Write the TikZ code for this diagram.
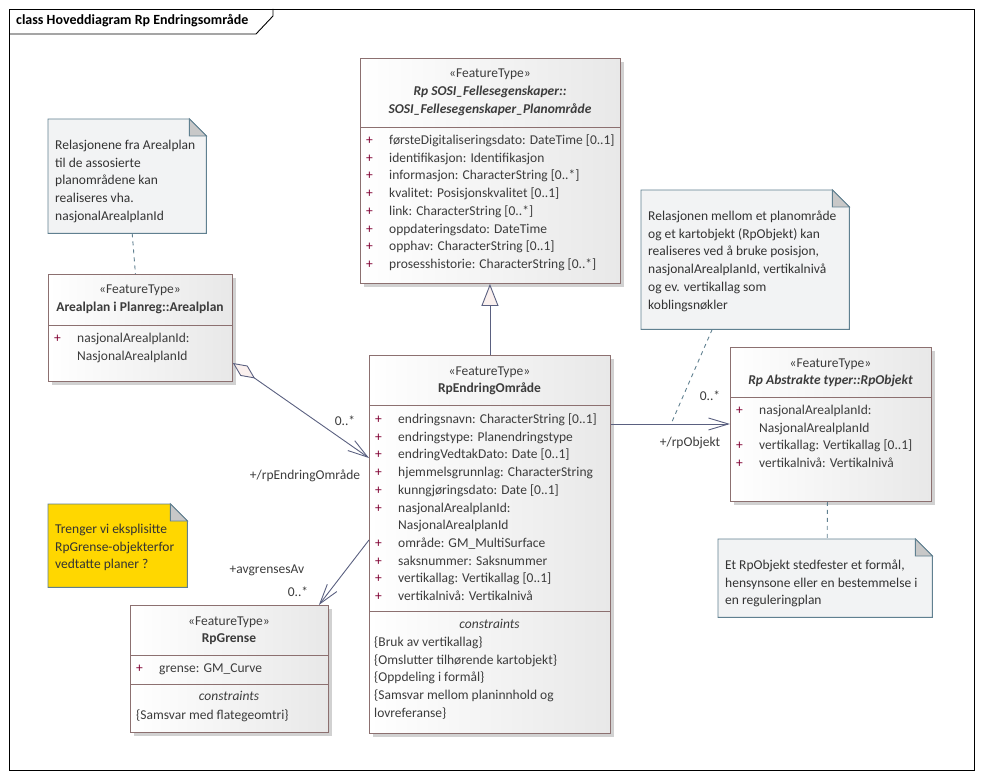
\documentclass[tikz,border=0pt]{standalone}
\usepackage{fontspec}
\setmainfont{Carlito}
\usetikzlibrary{arrows.meta,shadows}
\definecolor{classline}{RGB}{140,112,112}
\definecolor{classtext}{RGB}{60,60,60}
\definecolor{plusred}{RGB}{128,0,50}
\definecolor{noteline}{RGB}{96,128,144}
\definecolor{notefill}{RGB}{242,243,244}
\definecolor{foldfill}{RGB}{200,200,200}
\definecolor{yellownote}{RGB}{255,215,0}
\definecolor{linkcol}{RGB}{90,96,128}
\definecolor{tipfill}{RGB}{250,240,238}
\newcommand{\pl}{\strut\makebox[23pt][l]{\textcolor{plusred}{+}}}
\newcommand{\ind}{\strut\hspace*{23pt}}
\newcommand{\notefold}[2]{%
  \draw[noteline, line width=0.9pt, fill=#2] (#1.north west) -- ([xshift=-17pt]#1.north east)
    -- ([yshift=-17pt]#1.north east) -- (#1.south east) -- (#1.south west) -- cycle;
  \draw[noteline, line width=0.9pt, fill=foldfill] ([xshift=-17pt]#1.north east)
    -- ([xshift=-17pt,yshift=-17pt]#1.north east) -- ([yshift=-17pt]#1.north east) -- cycle;}
\tikzset{
  classbox/.style={draw=classline, line width=0.9pt, left color=white, right color=black!9,
    anchor=north west, inner sep=0pt,
    drop shadow={shadow xshift=4pt, shadow yshift=-4pt, fill=black!18, opacity=1}},
  divider/.style={draw=classline, line width=0.9pt},
  stereo/.style={text=classtext, inner sep=0pt, text height=9pt, text depth=3pt},
  ctitle/.style={stereo, font=\bfseries},
  attrs/.style={text=classtext, inner sep=0pt, anchor=north west, align=left},
  notebox/.style={inner sep=0pt, anchor=north west},
  notetext/.style={text=black!80, inner sep=0pt, anchor=north west, align=left},
  conn/.style={draw=linkcol, line width=0.9pt},
  notelink/.style={draw=noteline, line width=0.9pt, dash pattern=on 4pt off 4pt},
  lbl/.style={text=classtext, inner sep=0pt},
  barb/.style={-{Straight Barb[length=20pt, width=12pt]}}
}
\begin{document}
\fontsize{13.5}{17.7}\selectfont
\begin{tikzpicture}[x=1pt, y=-1pt]
\useasboundingbox (0,0) rectangle (983,778);
% ramme
\draw[line width=0.9pt] (9,9) rectangle (974,770);
\draw[line width=0.9pt] (9,34) -- (256,34) -- (273,16) -- (273,9);
\node[lbl, anchor=west, text=black, font=\fontsize{14}{17}\bfseries] (frameTitle) at (16,21) {class Hoveddiagram Rp Endringsområde};

% SOSI_Fellesegenskaper_Planområde
\node[classbox, minimum width=260pt, minimum height=225pt] (sosi) at (360,58) {};
\draw[divider] (360,127) -- (620,127);
\node[stereo] (sosiStereo) at (490,75) {«FeatureType»};
\node[ctitle, font=\bfseries\itshape, align=center, text height=, text depth=] (sosiName) at (490,101) {Rp SOSI\_Fellesegenskaper::\\SOSI\_Fellesegenskaper\_Planområde};
\node[attrs] (sosiAttr) at (366,132) {\pl førsteDigitaliseringsdato: DateTime [0..1]\\
  \pl identifikasjon: Identifikasjon\\
  \pl informasjon: CharacterString [0..*]\\
  \pl kvalitet: Posisjonskvalitet [0..1]\\
  \pl link: CharacterString [0..*]\\
  \pl oppdateringsdato: DateTime\\
  \pl opphav: CharacterString [0..1]\\
  \pl prosesshistorie: CharacterString [0..*]};

% RpEndringOmråde
\node[classbox, minimum width=241pt, minimum height=378pt] (endring) at (369,355) {};
\draw[divider] (369,405) -- (610,405);
\draw[divider] (369,611) -- (610,611);
\node[stereo] (endringStereo) at (489.5,372) {«FeatureType»};
\node[ctitle] (endringName) at (489.5,389) {RpEndringOmråde};
\node[attrs] (endringAttr) at (375,411) {\pl endringsnavn: CharacterString [0..1]\\
  \pl endringstype: Planendringstype\\
  \pl endringVedtakDato: Date [0..1]\\
  \pl hjemmelsgrunnlag: CharacterString\\
  \pl kunngjøringsdato: Date [0..1]\\
  \pl nasjonalArealplanId:\\
  \ind NasjonalArealplanId\\
  \pl område: GM\_MultiSurface\\
  \pl saksnummer: Saksnummer\\
  \pl vertikallag: Vertikallag [0..1]\\
  \pl vertikalnivå: Vertikalnivå};
\node[stereo, font=\itshape] (endringCons) at (489.5,625) {constraints};
\node[attrs] (endringConsTxt) at (374,634) {\strut\{Bruk av vertikallag\}\\
  \{Omslutter tilhørende kartobjekt\}\\
  \{Oppdeling i formål\}\\
  \{Samsvar mellom planinnhold og\\
  lovreferanse\}};

% RpObjekt
\node[classbox, minimum width=201pt, minimum height=154pt] (rpobj) at (730,347) {};
\draw[divider] (730,397) -- (931,397);
\node[stereo] (rpobjStereo) at (830.5,364) {«FeatureType»};
\node[ctitle, font=\bfseries\itshape] (rpobjName) at (830.5,381) {Rp Abstrakte typer::RpObjekt};
\node[attrs] (rpobjAttr) at (736,402) {\pl nasjonalArealplanId:\\
  \ind NasjonalArealplanId\\
  \pl vertikallag: Vertikallag [0..1]\\
  \pl vertikalnivå: Vertikalnivå};

% Arealplan
\node[classbox, minimum width=184pt, minimum height=107pt] (areal) at (48,274) {};
\draw[divider] (48,325) -- (232,325);
\node[stereo] (arealStereo) at (140,291) {«FeatureType»};
\node[ctitle] (arealName) at (140,308) {Arealplan i Planreg::Arealplan};
\node[attrs] (arealAttr) at (54,330) {\pl nasjonalArealplanId:\\
  \ind NasjonalArealplanId};

% RpGrense
\node[classbox, minimum width=198pt, minimum height=127pt] (grense) at (130,605) {};
\draw[divider] (130,655) -- (328,655);
\draw[divider] (130,684) -- (328,684);
\node[stereo] (grenseStereo) at (229,622) {«FeatureType»};
\node[ctitle] (grenseName) at (229,639) {RpGrense};
\node[attrs] (grenseAttr) at (136,660) {\pl grense: GM\_Curve};
\node[stereo, font=\itshape] (grenseCons) at (229,697) {constraints};
\node[attrs] (grenseConsTxt) at (136,707) {\strut\{Samsvar med flategeomtri\}};

% notater
\node[notebox, minimum width=158pt, minimum height=114pt] (noteAreal) at (48,119) {};
\notefold{noteAreal}{notefill}
\node[notetext] (noteArealTxt) at (55,137) {\strut Relasjonene fra Arealplan\\
  til de assosierte\\
  planområdene kan\\
  realiseres vha.\\
  nasjonalArealplanId};

\node[notebox, minimum width=208pt, minimum height=139pt] (noteRp) at (641,190) {};
\notefold{noteRp}{notefill}
\node[notetext] (noteRpTxt) at (648,208) {\strut Relasjonen mellom et planområde\\
  og et kartobjekt (RpObjekt) kan\\
  realiseres ved å bruke posisjon,\\
  nasjonalArealplanId, vertikalnivå\\
  og ev. vertikallag som\\
  koblingsnøkler};

\node[notebox, minimum width=214pt, minimum height=78pt] (noteObj) at (718,539) {};
\notefold{noteObj}{notefill}
\node[notetext] (noteObjTxt) at (725,557) {\strut Et RpObjekt stedfester et formål,\\
  hensynsone eller en bestemmelse i\\
  en reguleringplan};

\node[notebox, minimum width=139pt, minimum height=83pt] (noteGrense) at (48,504) {};
\notefold{noteGrense}{yellownote}
\node[notetext] (noteGrenseTxt) at (55,521) {\strut Trenger vi eksplisitte\\
  RpGrense-objekterfor\\
  vedtatte planer ?};

% generalisering
\draw[conn, -{Triangle[open, fill=tipfill, length=22pt, width=17pt]}] (endring.north) -- (endring.north |- sosi.south);
% assosiasjoner
\draw[conn, {Diamond[open, fill=tipfill, length=27pt, width=12.5pt]}-{Straight Barb[length=20pt, width=12pt]}] (areal.east |- 0,363) -- (endring.west |- 0,458);
\draw[conn, barb] (endring.east |- 0,424) -- (rpobj.west |- 0,424);
\draw[conn, barb] (endring.west |- 0,540) -- ([xshift=-10pt]grense.north east);
% roller og multiplisitet
\node[lbl] (multAgg) at (345,421) {0..*};
\node[lbl] (roleEndring) at (305,476) {+/rpEndringOmråde};
\node[lbl] (multObj) at (710,396) {0..*};
\node[lbl] (roleObj) at (690,443) {+/rpObjekt};
\node[lbl] (roleGrense) at (267,570) {+avgrensesAv};
\node[lbl] (multGrense) at (298,592) {0..*};
% notatlenker
\coordinate (objLink) at (671,424);
\draw[notelink] ([xshift=5pt]noteAreal.south) -- ([xshift=-5pt]areal.north);
\draw[notelink] ([xshift=-33pt]noteRp.south) -- (objLink);
\draw[notelink] ([xshift=-3.5pt]rpobj.south) -- ([xshift=2pt]noteObj.north);
\end{tikzpicture}
\end{document}
